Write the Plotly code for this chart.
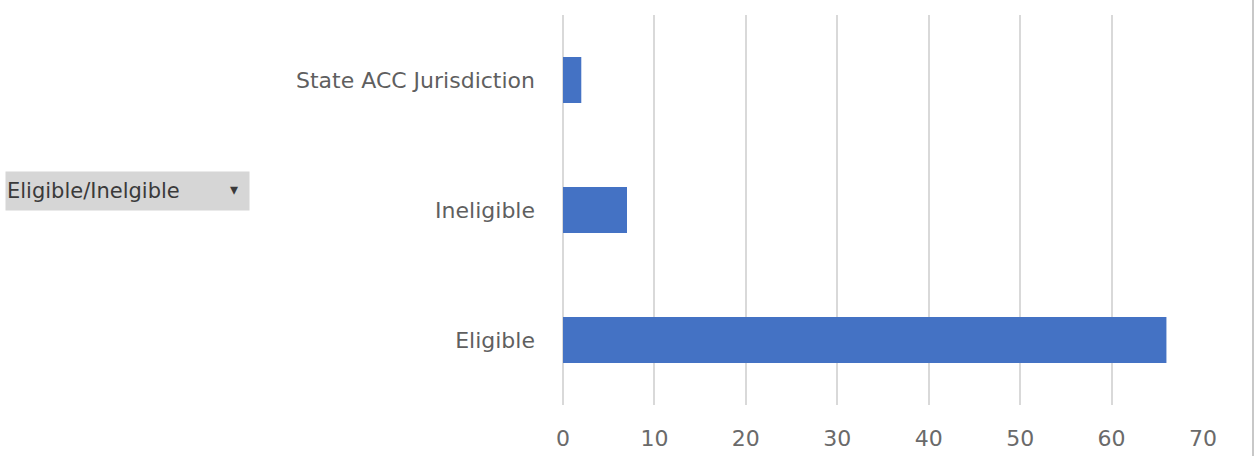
import plotly.graph_objects as go

categories = ["Eligible", "Ineligible", "State ACC Jurisdiction"]
values = [66, 7, 2]
x_ticks = [0, 10, 20, 30, 40, 50, 60, 70]

W, H = 1260, 456
L, R, T, B = 563, 57, 15, 51
PW, PH = W - L - R, H - T - B

FONT = "DejaVu Sans"

fig = go.Figure(go.Bar(
    y=categories, x=values, orientation="h",
    marker=dict(color="#4472C4", line=dict(width=0)),
))

fig.update_layout(
    width=W, height=H,
    margin=dict(l=L, r=R, t=T, b=B),
    paper_bgcolor="white", plot_bgcolor="white",
    bargap=0.646,
    showlegend=False,
    font=dict(family=FONT, color="#595959", size=22),
    xaxis=dict(range=[0, 70], tickvals=x_ticks, showgrid=True, gridcolor="#d9d9d9",
               gridwidth=1.5, zeroline=True, zerolinecolor="#d9d9d9", zerolinewidth=1.5,
               showline=False, ticks="", automargin=False,
               ticklabelstandoff=18, tickfont=dict(family=FONT, size=22, color="#6a6a6a")),
    yaxis=dict(range=[-0.5, 2.5], showgrid=False, zeroline=False, showline=False,
               ticks="", automargin=False,
               ticklabelstandoff=27, tickfont=dict(family=FONT, size=22, color="#5f5f5f")),
    annotations=[
        dict(text="Eligible/Inelgible", xref="paper", yref="paper",
             x=(5 - L) / PW, y=1 - (191 - T) / PH,
             xanchor="left", yanchor="middle", showarrow=False,
             bgcolor="#d6d6d6", width=241, height=36, align="left",
             borderpad=1, font=dict(size=21, color="#3a3a3a", family=FONT)),
        dict(text="▾", xref="paper", yref="paper",
             x=(234 - L) / PW, y=1 - (190 - T) / PH,
             xanchor="center", yanchor="middle", showarrow=False,
             font=dict(size=16, color="#3a3a3a", family=FONT)),
    ],
    shapes=[dict(type="line", xref="paper", yref="paper",
                 x0=(1253 - L) / PW, x1=(1253 - L) / PW,
                 y0=1 + T / PH, y1=-B / PH,
                 line=dict(color="#c8c8c8", width=2))],
)

fig.write_html("out.html")
